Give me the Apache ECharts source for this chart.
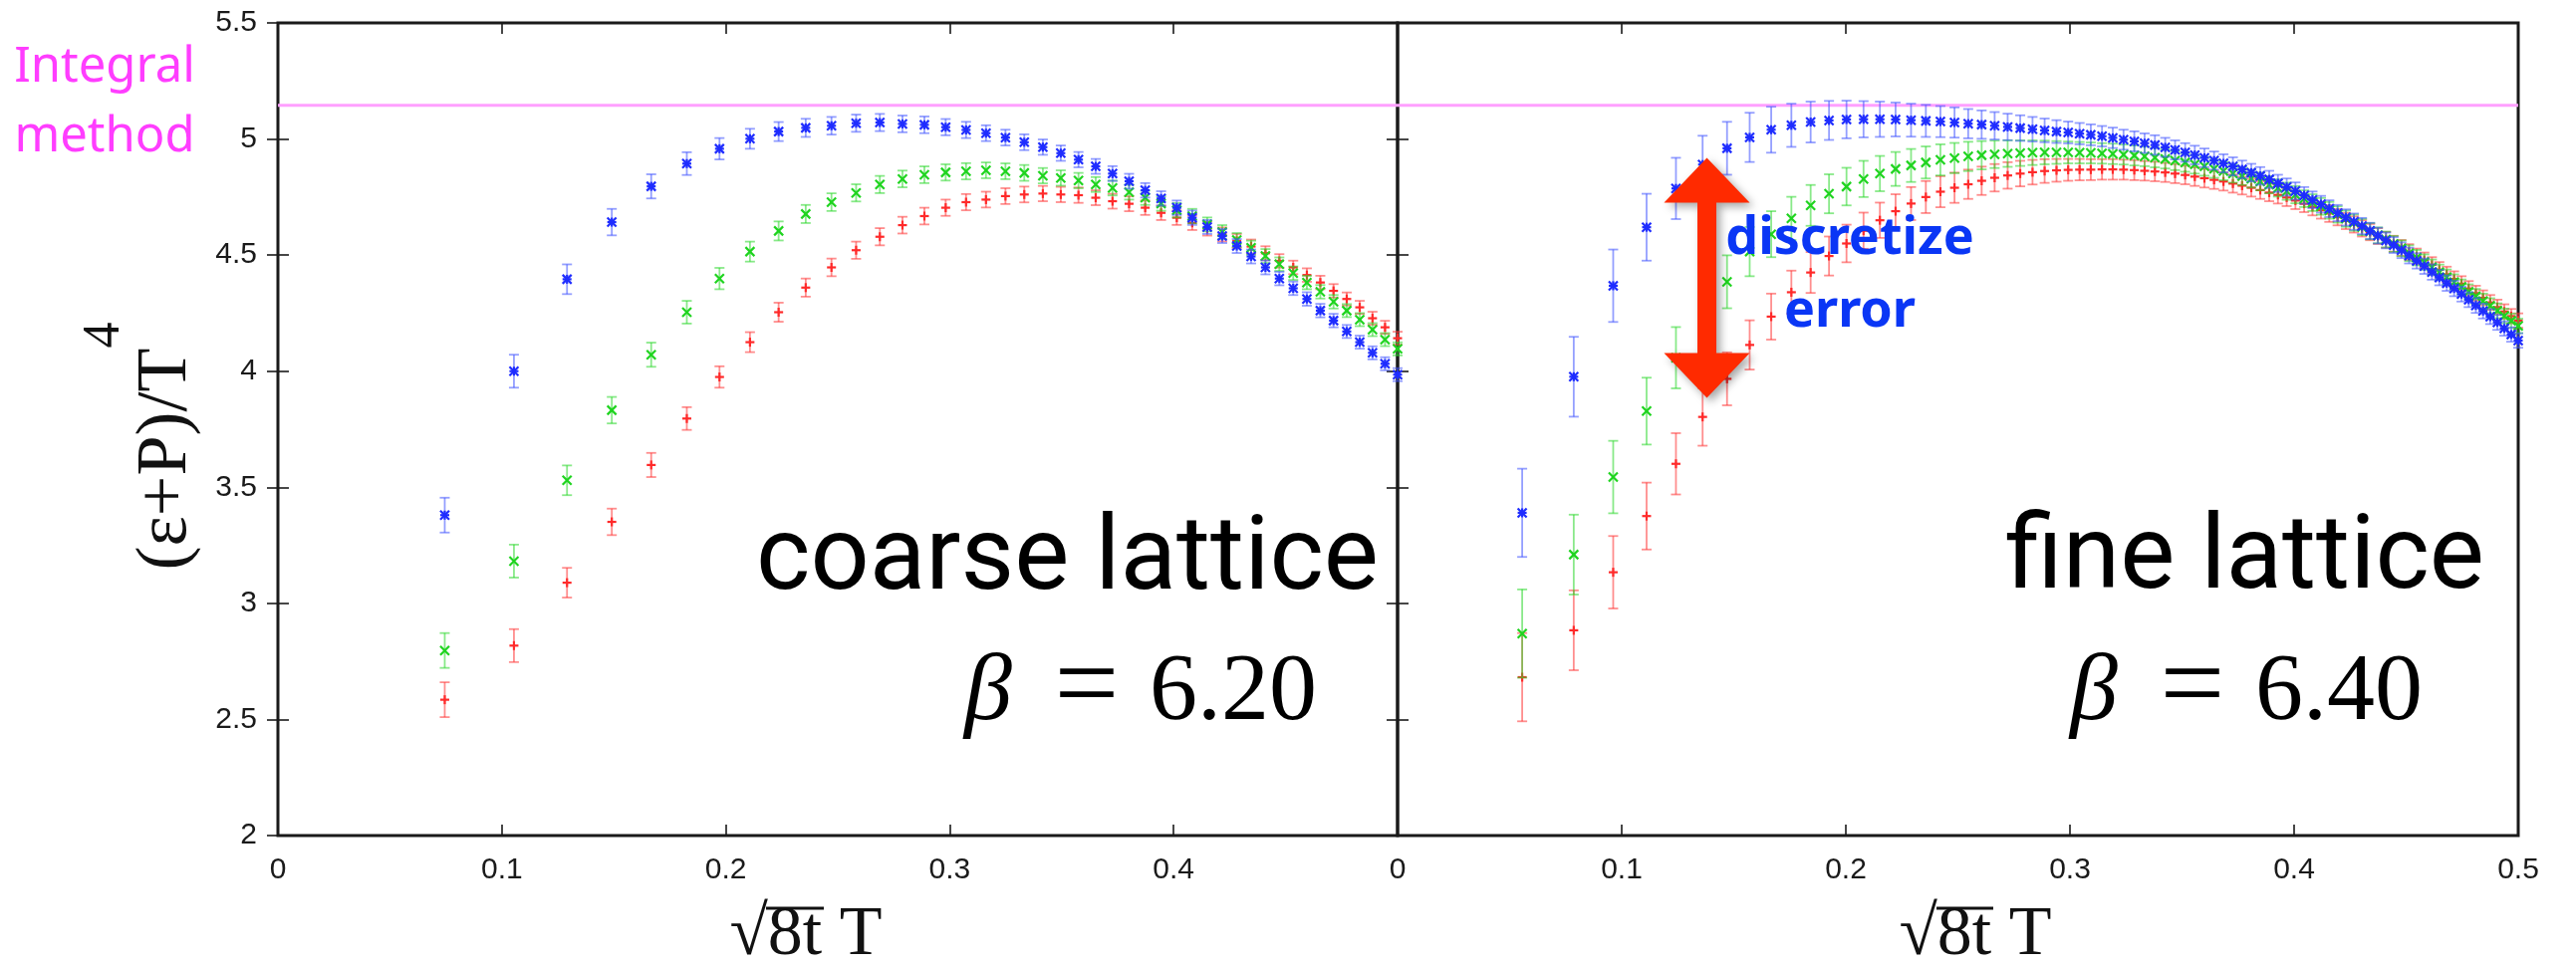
<!DOCTYPE html>
<html>
<head>
<meta charset="utf-8">
<script src="https://cdn.jsdelivr.net/npm/echarts@6.0.0/dist/echarts.min.js"></script>
<style>
  html, body { margin: 0; padding: 0; background: #fff; }
  #chart { width: 2586px; height: 972px; }
</style>
</head>
<body>
<div id="chart"></div>
<script>
// ---- coarse lattice, beta = 6.20 : sqrt(8t) T and (e+P)/T^4 for three flow series ----
const coarseX = [0.0745, 0.1054, 0.1291, 0.1491, 0.1667, 0.1826, 0.1972, 0.2108, 0.2236, 0.2357,
  0.2472, 0.2582, 0.2688, 0.2789, 0.2887, 0.2982, 0.3073, 0.3162, 0.3249, 0.3333,
  0.3416, 0.3496, 0.3575, 0.3652, 0.3727, 0.3801, 0.3873, 0.3944, 0.4014, 0.4083,
  0.4150, 0.4217, 0.4282, 0.4346, 0.4410, 0.4472, 0.4534, 0.4595, 0.4655, 0.4714,
  0.4773, 0.4831, 0.4888, 0.4944, 0.5000];
const coarseBlue = [3.38, 4.00, 4.396, 4.642, 4.796, 4.894, 4.958, 5.001, 5.032, 5.048,
  5.057, 5.068, 5.071, 5.065, 5.061, 5.051, 5.039, 5.025, 5.006, 4.986,
  4.965, 4.939, 4.911, 4.882, 4.851, 4.818, 4.779, 4.744, 4.704, 4.661,
  4.621, 4.582, 4.539, 4.494, 4.447, 4.399, 4.357, 4.311, 4.261, 4.218,
  4.171, 4.125, 4.079, 4.032, 3.985];
const coarseGreen = [2.797, 3.182, 3.53, 3.832, 4.071, 4.254, 4.399, 4.515, 4.604, 4.677,
  4.728, 4.768, 4.804, 4.828, 4.846, 4.856, 4.861, 4.865, 4.861, 4.854,
  4.842, 4.832, 4.821, 4.804, 4.789, 4.771, 4.747, 4.722, 4.693, 4.668,
  4.632, 4.599, 4.565, 4.532, 4.496, 4.461, 4.422, 4.382, 4.342, 4.299,
  4.261, 4.222, 4.179, 4.136, 4.096];
const coarseRed = [2.585, 2.818, 3.089, 3.351, 3.596, 3.796, 3.975, 4.125, 4.254, 4.36,
  4.447, 4.521, 4.579, 4.629, 4.668, 4.704, 4.728, 4.739, 4.754, 4.761,
  4.765, 4.761, 4.758, 4.747, 4.732, 4.721, 4.704, 4.682, 4.661, 4.639,
  4.614, 4.589, 4.561, 4.537, 4.508, 4.475, 4.447, 4.414, 4.382, 4.346,
  4.311, 4.275, 4.228, 4.189, 4.142];
const coarseErr = [0.075, 0.071, 0.064, 0.057, 0.052, 0.049, 0.046, 0.043, 0.041, 0.039,
  0.038, 0.037, 0.037, 0.036, 0.036, 0.035, 0.035, 0.034, 0.034, 0.034,
  0.033, 0.033, 0.033, 0.032, 0.032, 0.032, 0.031, 0.031, 0.031, 0.031,
  0.030, 0.030, 0.030, 0.030, 0.030, 0.029, 0.029, 0.029, 0.029, 0.029,
  0.028, 0.028, 0.028, 0.028, 0.028];

// ---- fine lattice, beta = 6.40 ----
const fineX = [0.0556, 0.0786, 0.0962, 0.1111, 0.1242, 0.1361, 0.1470, 0.1571, 0.1667, 0.1757,
  0.1843, 0.1925, 0.2003, 0.2079, 0.2152, 0.2222, 0.2291, 0.2357, 0.2422, 0.2485,
  0.2546, 0.2606, 0.2664, 0.2722, 0.2778, 0.2833, 0.2887, 0.2940, 0.2992, 0.3043,
  0.3093, 0.3143, 0.3191, 0.3239, 0.3287, 0.3333, 0.3379, 0.3425, 0.3469, 0.3514,
  0.3557, 0.3600, 0.3643, 0.3685, 0.3727, 0.3768, 0.3809, 0.3849, 0.3889, 0.3928,
  0.3967, 0.4006, 0.4045, 0.4082, 0.4120, 0.4157, 0.4194, 0.4231, 0.4267, 0.4303,
  0.4339, 0.4374, 0.4410, 0.4444, 0.4479, 0.4513, 0.4547, 0.4581, 0.4615, 0.4648,
  0.4681, 0.4714, 0.4747, 0.4779, 0.4811, 0.4843, 0.4875, 0.4907, 0.4938, 0.4969,
  0.5000];
const fineBlue = [3.39, 3.976, 4.368, 4.62, 4.787, 4.89, 4.96, 5.007, 5.04, 5.059,
  5.073, 5.08, 5.084, 5.085, 5.085, 5.084, 5.081, 5.078, 5.075, 5.071,
  5.066, 5.062, 5.057, 5.052, 5.047, 5.042, 5.037, 5.032, 5.028, 5.023,
  5.018, 5.012, 5.005, 4.997, 4.990, 4.982, 4.974, 4.964, 4.953, 4.942,
  4.931, 4.919, 4.907, 4.895, 4.882, 4.869, 4.855, 4.841, 4.826, 4.809,
  4.793, 4.776, 4.757, 4.738, 4.719, 4.700, 4.681, 4.662, 4.644, 4.625,
  4.604, 4.584, 4.563, 4.543, 4.521, 4.498, 4.475, 4.452, 4.427, 4.403,
  4.379, 4.356, 4.332, 4.308, 4.283, 4.259, 4.235, 4.210, 4.184, 4.158,
  4.132];
const fineGreen = [2.87, 3.21, 3.544, 3.828, 4.058, 4.235, 4.385, 4.515, 4.59, 4.658,
  4.714, 4.764, 4.795, 4.828, 4.851, 4.871, 4.886, 4.899, 4.91, 4.918,
  4.925, 4.93, 4.934, 4.937, 4.939, 4.941, 4.942, 4.942, 4.942, 4.941,
  4.940, 4.938, 4.936, 4.933, 4.929, 4.925, 4.920, 4.914, 4.907, 4.899,
  4.891, 4.882, 4.872, 4.862, 4.851, 4.840, 4.829, 4.817, 4.803, 4.789,
  4.775, 4.760, 4.743, 4.726, 4.710, 4.693, 4.675, 4.657, 4.640, 4.621,
  4.603, 4.585, 4.567, 4.548, 4.529, 4.508, 4.489, 4.470, 4.448, 4.426,
  4.405, 4.384, 4.363, 4.342, 4.322, 4.302, 4.282, 4.260, 4.238, 4.217,
  4.195];
const fineRed = [2.682, 2.884, 3.134, 3.376, 3.601, 3.803, 3.967, 4.113, 4.235, 4.34,
  4.425, 4.496, 4.55, 4.605, 4.65, 4.689, 4.722, 4.75, 4.773, 4.79,
  4.805, 4.82, 4.833, 4.843, 4.851, 4.857, 4.862, 4.865, 4.867, 4.868,
  4.868, 4.869, 4.869, 4.868, 4.866, 4.863, 4.860, 4.856, 4.851, 4.845,
  4.838, 4.831, 4.824, 4.817, 4.808, 4.799, 4.790, 4.780, 4.769, 4.759,
  4.748, 4.735, 4.721, 4.707, 4.693, 4.679, 4.663, 4.647, 4.632, 4.615,
  4.599, 4.582, 4.566, 4.549, 4.531, 4.513, 4.495, 4.478, 4.458, 4.437,
  4.417, 4.397, 4.377, 4.356, 4.336, 4.316, 4.296, 4.276, 4.257, 4.237,
  4.218];
const fineErr = [0.19, 0.172, 0.156, 0.144, 0.132, 0.124, 0.114, 0.106, 0.099, 0.093,
  0.088, 0.084, 0.081, 0.078, 0.076, 0.073, 0.071, 0.069, 0.067, 0.065,
  0.063, 0.061, 0.059, 0.057, 0.055, 0.053, 0.051, 0.049, 0.047, 0.046,
  0.045, 0.044, 0.044, 0.043, 0.043, 0.042, 0.042, 0.041, 0.041, 0.040,
  0.040, 0.040, 0.039, 0.039, 0.039, 0.038, 0.038, 0.038, 0.037, 0.037,
  0.037, 0.037, 0.036, 0.036, 0.036, 0.036, 0.035, 0.035, 0.035, 0.035,
  0.035, 0.034, 0.034, 0.034, 0.034, 0.034, 0.033, 0.033, 0.033, 0.033,
  0.033, 0.033, 0.032, 0.032, 0.032, 0.032, 0.032, 0.032, 0.031, 0.031,
  0.031];

// reference level from the integral method, drawn across both panels
const integralSpan = [0, 0.5];
const integralLevel = [5.145, 5.145];

// double arrow marking the discretization gap in the fine panel
const arrowX = 0.138;
const arrowSpan = [3.885, 4.919];

// ---- helpers ----
function points(xs, ys, errs) {
  return xs.map((x, i) => [x, ys[i], errs[i]]);
}

// error bar with caps plus a gnuplot-like point glyph
function errorBarRenderer(glyph, barColor, markColor) {
  return function (params, api) {
    const x = api.value(0), y = api.value(1), e = api.value(2);
    const c = api.coord([x, y]);
    const hi = api.coord([x, y + e]);
    const lo = api.coord([x, y - e]);
    const cap = 5, m = 4.5;
    const bar = { stroke: barColor, lineWidth: 1.8 };
    const mark = { stroke: markColor, lineWidth: 2.2 };
    const kids = [
      { type: 'line', shape: { x1: c[0], y1: hi[1], x2: c[0], y2: lo[1] }, style: bar },
      { type: 'line', shape: { x1: c[0] - cap, y1: hi[1], x2: c[0] + cap, y2: hi[1] }, style: bar },
      { type: 'line', shape: { x1: c[0] - cap, y1: lo[1], x2: c[0] + cap, y2: lo[1] }, style: bar }
    ];
    if (glyph === 'plus' || glyph === 'star') {
      kids.push({ type: 'line', shape: { x1: c[0] - m, y1: c[1], x2: c[0] + m, y2: c[1] }, style: mark });
      kids.push({ type: 'line', shape: { x1: c[0], y1: c[1] - m, x2: c[0], y2: c[1] + m }, style: mark });
    }
    if (glyph === 'cross' || glyph === 'star') {
      kids.push({ type: 'line', shape: { x1: c[0] - m, y1: c[1] - m, x2: c[0] + m, y2: c[1] + m }, style: mark });
      kids.push({ type: 'line', shape: { x1: c[0] - m, y1: c[1] + m, x2: c[0] + m, y2: c[1] - m }, style: mark });
    }
    return { type: 'group', children: kids };
  };
}

function arrowRenderer(params, api) {
  const top = api.coord([api.value(0), api.value(2)]);
  const bot = api.coord([api.value(0), api.value(1)]);
  const cx = top[0], hw = 43, hh = 45, sw = 9.5;
  return {
    type: 'polygon',
    shape: {
      points: [
        [cx, top[1]], [cx + hw, top[1] + hh], [cx + sw, top[1] + hh],
        [cx + sw, bot[1] - hh], [cx + hw, bot[1] - hh], [cx, bot[1]],
        [cx - hw, bot[1] - hh], [cx - sw, bot[1] - hh], [cx - sw, top[1] + hh],
        [cx - hw, top[1] + hh]
      ]
    },
    style: {
      fill: '#ff2a00',
      shadowBlur: 8, shadowOffsetX: 4, shadowOffsetY: 4,
      shadowColor: 'rgba(0,0,0,0.35)'
    }
  };
}

const COLORS = {
  blue: { bar: 'rgba(60,80,255,0.55)', mark: '#1f2dff' },
  green: { bar: 'rgba(40,215,40,0.55)', mark: '#1fd41f' },
  red: { bar: 'rgba(255,50,50,0.55)', mark: '#ff2a2a' }
};

function errSeries(name, idx, data, glyph, col) {
  return {
    name: name, type: 'custom', xAxisIndex: idx, yAxisIndex: idx,
    renderItem: errorBarRenderer(glyph, col.bar, col.mark),
    encode: { x: 0, y: 1 }, data: data, z: 3, silent: true
  };
}

function levelSeries(idx) {
  return {
    type: 'line', xAxisIndex: idx, yAxisIndex: idx, symbol: 'none', silent: true,
    data: integralSpan.map((x, i) => [x, integralLevel[i]]),
    lineStyle: { color: '#ffa0ff', width: 3 }, z: 1
  };
}

const TICK_FONT = { fontFamily: 'Liberation Sans', fontSize: 30, color: '#1a1a1a' };
const tickLine = { color: '#1a1a1a', width: 1.6 };

function xAxis(gridIndex, opts) {
  return Object.assign({
    type: 'value', gridIndex: gridIndex, min: 0, max: 0.5, interval: 0.1,
    splitLine: { show: false }, axisLine: { show: false },
    axisTick: { inside: true, length: 11, lineStyle: tickLine },
    axisLabel: Object.assign({ margin: 20 }, TICK_FONT)
  }, opts);
}
function yAxis(gridIndex, opts) {
  return Object.assign({
    type: 'value', gridIndex: gridIndex, min: 2, max: 5.5, interval: 0.5,
    splitLine: { show: false }, axisLine: { show: false },
    axisTick: { inside: true, length: 11, lineStyle: tickLine },
    axisLabel: Object.assign({ margin: 21 }, TICK_FONT)
  }, opts);
}

const SERIF = 'Liberation Serif';
const xName = '\u221A8t T';
const xNameStyle = { fontFamily: SERIF, fontSize: 70, lineHeight: 70, color: '#111' };

// vinculum of the square root in the x-axis titles
function vinculum(x1, x2) {
  return { type: 'line', z: 100, shape: { x1: x1, y1: 912, x2: x2, y2: 912 },
    style: { stroke: '#111', lineWidth: 3 } };
}

// "beta = value" annotation set in a serif face
function betaLabel(dx, value) {
  return [
    { type: 'text', x: 968 + dx, y: 697, z: 100, style: {
        text: '\u03B2', fill: '#000', font: 'italic 96px "Liberation Serif"',
        align: 'left', verticalAlign: 'middle' } },
    { type: 'text', x: 1091 + dx, y: 694, z: 100, style: {
        text: '=', fill: '#000', font: '115px "Liberation Serif"',
        align: 'center', verticalAlign: 'middle' } },
    { type: 'text', x: 1154 + dx, y: 697, z: 100, style: {
        text: value, fill: '#000', font: '96px "Liberation Serif"',
        align: 'left', verticalAlign: 'middle' } }
  ];
}

const gridBase = { top: 23, height: 816, show: true, borderColor: '#1a1a1a', borderWidth: 3,
  backgroundColor: 'transparent', containLabel: false, outerBoundsMode: 'none' };

const option = {
  backgroundColor: '#ffffff',
  animation: false,
  grid: [
    Object.assign({ left: 279, width: 1124 }, gridBase),
    Object.assign({ left: 1403, width: 1125 }, gridBase)
  ],
  xAxis: [
    xAxis(0, { axisLabel: Object.assign({ margin: 20, showMaxLabel: false }, TICK_FONT),
      name: xName, nameLocation: 'middle', nameGap: 66, nameMoveOverlap: false,
      nameTextStyle: Object.assign({ padding: [0, 64, 0, 0] }, xNameStyle) }),
    xAxis(1, { name: xName, nameLocation: 'middle', nameGap: 66, nameMoveOverlap: false,
      nameTextStyle: Object.assign({ padding: [0, 0, 0, 35] }, xNameStyle) }),
    xAxis(0, { position: 'top', axisLabel: { show: false } }),
    xAxis(1, { position: 'top', axisLabel: { show: false } })
  ],
  yAxis: [
    yAxis(0, {
      name: '{m|(\u03B5+P)/T}{s|4}', nameLocation: 'middle', nameGap: 76, nameRotate: 90,
      nameMoveOverlap: false,
      nameTextStyle: {
        fontFamily: SERIF, fontSize: 72, color: '#111', padding: [0, 34, 0, 0],
        rich: {
          m: { fontFamily: SERIF, fontSize: 72, lineHeight: 124, color: '#111', verticalAlign: 'bottom' },
          s: { fontFamily: SERIF, fontSize: 52, lineHeight: 52, color: '#111', verticalAlign: 'top' }
        }
      }
    }),
    yAxis(1, { axisLabel: { show: false } }),
    yAxis(0, { position: 'right', axisLabel: { show: false } }),
    yAxis(1, { position: 'right', axisLabel: { show: false } })
  ],
  series: [
    levelSeries(0),
    levelSeries(1),
    errSeries('coarse red', 0, points(coarseX, coarseRed, coarseErr), 'plus', COLORS.red),
    errSeries('coarse green', 0, points(coarseX, coarseGreen, coarseErr), 'cross', COLORS.green),
    errSeries('coarse blue', 0, points(coarseX, coarseBlue, coarseErr), 'star', COLORS.blue),
    errSeries('fine red', 1, points(fineX, fineRed, fineErr), 'plus', COLORS.red),
    errSeries('fine green', 1, points(fineX, fineGreen, fineErr), 'cross', COLORS.green),
    errSeries('fine blue', 1, points(fineX, fineBlue, fineErr), 'star', COLORS.blue),
    {
      type: 'custom', xAxisIndex: 1, yAxisIndex: 1, silent: true, z: 20,
      renderItem: arrowRenderer, encode: { x: 0, y: [1, 2] },
      data: [[arrowX, arrowSpan[0], arrowSpan[1]]]
    }
  ],
  graphic: [
    { type: 'text', x: 105, y: 33, z: 100, style: {
        text: 'Integral\nmethod', fill: '#ff3dff', font: '49px "Noto Sans"',
        lineHeight: 70, align: 'center', verticalAlign: 'top' } },
    { type: 'text', x: 1857, y: 204, z: 100, style: {
        text: 'discretize\nerror', fill: '#0a36f5', font: 'bold 52px "Noto Sans"',
        lineHeight: 73, align: 'center', verticalAlign: 'top' } },
    { type: 'text', x: 1384, y: 565, z: 100, style: {
        text: 'coarse lattice', fill: '#000', font: '104px Roboto',
        align: 'right', verticalAlign: 'middle' } },
    { type: 'text', x: 2494, y: 564, z: 100, style: {
        text: 'fine lattice', fill: '#000', font: '104px Roboto',
        align: 'right', verticalAlign: 'middle' } },
    vinculum(769, 827),
    vinculum(1944, 2001)
  ].concat(betaLabel(0, '6.20'), betaLabel(1110, '6.40'))
};

const chart = echarts.init(document.getElementById('chart'), null, { renderer: 'canvas', devicePixelRatio: 1 });
chart.setOption(option);
</script>
</body>
</html>
